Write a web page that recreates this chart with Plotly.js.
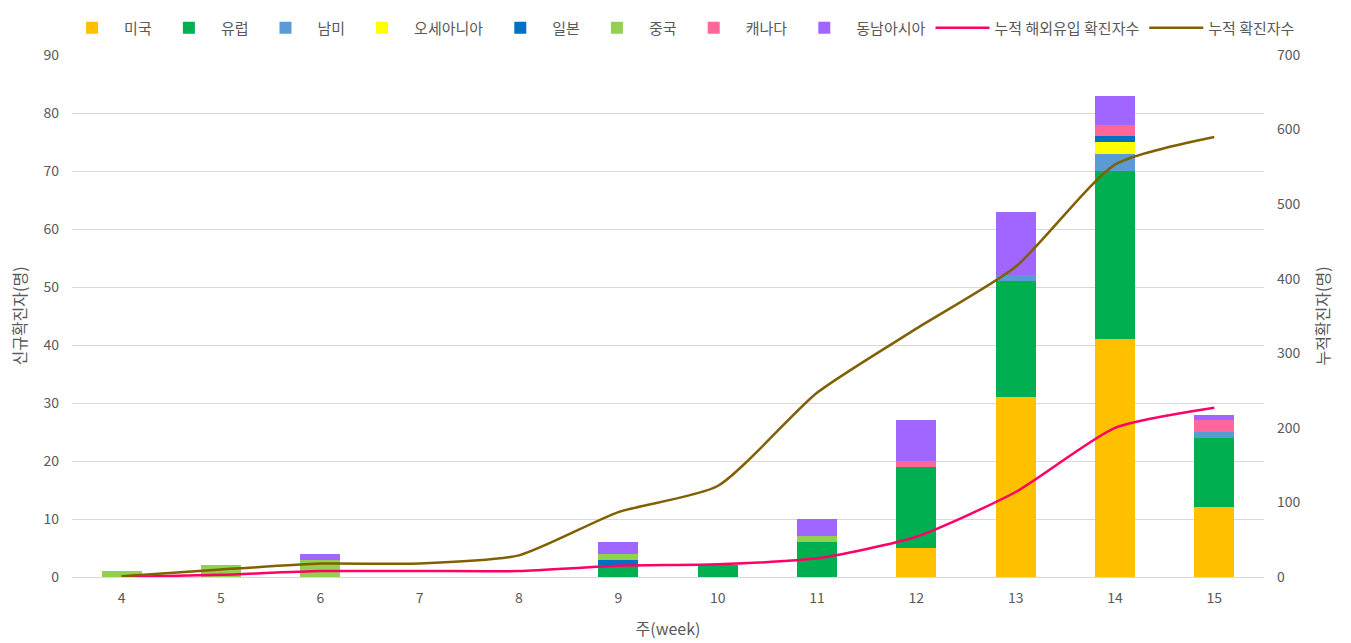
<!DOCTYPE html>
<html>
<head>
<meta charset="utf-8">
<script src="https://cdn.plot.ly/plotly-3.0.1.min.js"></script>
<style>html,body{margin:0;padding:0;background:#fff;}#chart{width:1351px;height:643px;}</style>
</head>
<body>
<div id="chart"></div>
<script>
const weeks = ['4','5','6','7','8','9','10','11','12','13','14','15'];
const usa      = [0,0,0,0,0,0,0,0,5,31,41,12];
const europe   = [0,0,0,0,0,2,2,6,14,20,29,12];
const samerica = [0,0,0,0,0,0,0,0,0,1,3,1];
const oceania  = [0,0,0,0,0,0,0,0,0,0,2,0];
const japan    = [0,0,0,0,0,1,0,0,0,0,1,0];
const china    = [1,2,3,0,0,1,0,1,0,0,0,0];
const canada   = [0,0,0,0,0,0,0,0,1,0,2,2];
const seasia   = [0,0,1,0,0,2,0,3,7,11,5,1];
const cumImported = [0,3,8,8,8,15,17,25,54,114,200,227];
const cumTotal    = [1,10,18,18,29,87,122,247,333,416,553,590];

const barSeries = [
  ['미국', usa, '#FFC000'],
  ['유럽', europe, '#00B050'],
  ['남미', samerica, '#5B9BD5'],
  ['오세아니아', oceania, '#FFFF00'],
  ['일본', japan, '#0070C0'],
  ['중국', china, '#92D050'],
  ['캐나다', canada, '#FF6699'],
  ['동남아시아', seasia, '#A066FF']
];

const traces = barSeries.map(([name, vals, color]) => ({
  type: 'bar', name: name, x: weeks, y: vals,
  marker: {color: color}, width: 0.4, hoverinfo: 'x+y+name'
}));
traces.push({
  type: 'scatter', mode: 'lines', name: '누적 해외유입 확진자수', x: weeks, y: cumImported,
  yaxis: 'y2', line: {color: '#FF0066', width: 2.5, shape: 'spline', smoothing: 0.6}
});
traces.push({
  type: 'scatter', mode: 'lines', name: '누적 확진자수', x: weeks, y: cumTotal,
  yaxis: 'y2', line: {color: '#806000', width: 2.5, shape: 'spline', smoothing: 0.6}
});

const font = {family: '"Noto Sans CJK KR", "Noto Sans", sans-serif', color: '#595959', size: 14};
const layout = {
  width: 1351, height: 643,
  margin: {l: 72, r: 87, t: 53, b: 66},
  paper_bgcolor: '#fff', plot_bgcolor: '#fff',
  font: font,
  barmode: 'stack',
  bargap: 0.6,
  showlegend: true,
  legend: {orientation: 'h', x: -0.01, xanchor: 'left', y: 1.02, yanchor: 'bottom',
           font: {size: 15, color: '#595959', family: font.family}, traceorder: 'normal',
           itemwidth: 54, tracegroupgap: 0},
  xaxis: {
    type: 'category', showgrid: false, showline: true, linecolor: '#d9d9d9', linewidth: 1,
    ticks: '', tickfont: {size: 14}, ticklabelstandoff: 8,
    title: {text: '주(week)', font: {size: 16, color: '#595959'}, standoff: 18}
  },
  yaxis: {
    range: [0, 90], dtick: 10, showgrid: true, gridcolor: '#d9d9d9', gridwidth: 1,
    zeroline: false, ticks: '', tickfont: {size: 14}, ticklabelstandoff: 12,
    title: {text: '신규확진자(명)', font: {size: 16, color: '#595959'}, standoff: 12}
  },
  yaxis2: {
    range: [0, 700], dtick: 100, overlaying: 'y', side: 'right', showgrid: false,
    zeroline: false, ticks: '', tickfont: {size: 14}, ticklabelstandoff: 12,
    title: {text: '누적확진자(명)', font: {size: 16, color: '#595959'}, standoff: 18}
  }
};
Plotly.newPlot('chart', traces, layout, {displayModeBar: false});
</script>
</body>
</html>
